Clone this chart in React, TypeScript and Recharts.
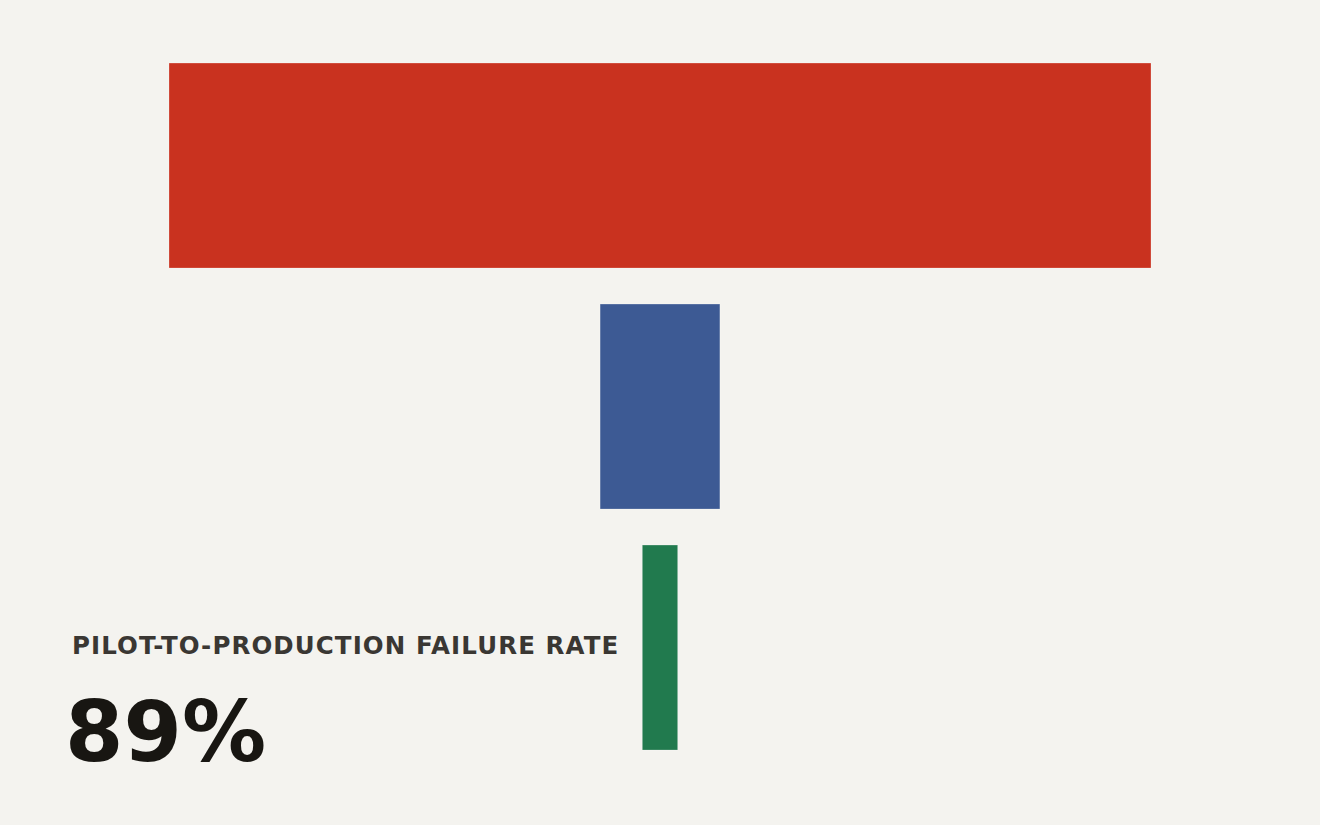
import React from 'react';
import { BarChart, Bar, XAxis, YAxis, Cell } from 'recharts';

const stages = ['Pilots launched', 'Scaled pilots', 'In production'];
const values = [100, 12.2, 3.6];
const colors = ['#c9321f', '#3d5a94', '#217a4e'];
const domainMax = 100;
const headline = 'PILOT-TO-PRODUCTION FAILURE RATE';
const headlineValue = '89%';

const data = stages.map((s, i) => ({
  stage: s,
  range: [(domainMax - values[i]) / 2, (domainMax + values[i]) / 2],
}));

export default function App() {
  return (
    <div
      style={{
        position: 'absolute',
        left: 0,
        top: 0,
        width: 1320,
        height: 825,
        background: '#f4f3ef',
        overflow: 'hidden',
      }}
    >
      <BarChart
        width={1320}
        height={825}
        data={data}
        layout="vertical"
        margin={{ top: 45, right: 169, bottom: 57, left: 169 }}
        barCategoryGap="7.5%"
      >
        <XAxis type="number" domain={[0, domainMax]} hide />
        <YAxis type="category" dataKey="stage" hide width={0} />
        <Bar dataKey="range" isAnimationActive={false} stroke="rgba(255,255,255,0.25)" strokeWidth={1}>
          {data.map((d, i) => (
            <Cell key={d.stage} fill={colors[i]} />
          ))}
        </Bar>
      </BarChart>
      <svg
        width={1320}
        height={825}
        style={{ position: 'absolute', left: 0, top: 0, pointerEvents: 'none' }}
      >
        <text
          x={72}
          y={654}
          fontFamily="DejaVu Sans"
          fontWeight="bold"
          fontSize={24.5}
          letterSpacing={1.1}
          fill="#3a3733"
        >
          {headline}
        </text>
        <text
          x={65}
          y={761}
          fontFamily="DejaVu Sans"
          fontWeight="bold"
          fontSize={84}
          fill="#181612"
        >
          {headlineValue}
        </text>
      </svg>
    </div>
  );
}
